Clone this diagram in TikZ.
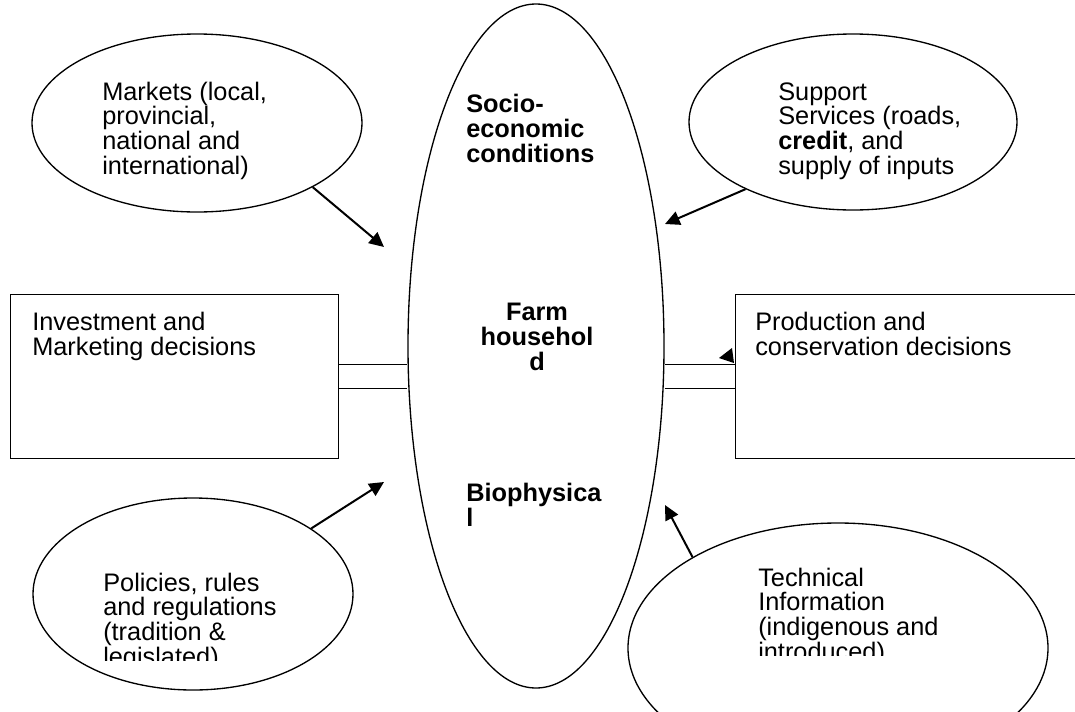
\documentclass[tikz,border=0pt]{standalone}
\usepackage{fontspec}
\setmainfont{Liberation Sans}
\usetikzlibrary{shapes.geometric}
\usetikzlibrary{arrows.meta}

\begin{document}
\begin{tikzpicture}[x=0.75pt,y=-0.75pt,
    bulle/.style={draw,ellipse,line width=1pt,inner sep=0pt},
    boite/.style={draw,rectangle,line width=1pt,inner sep=0pt,anchor=north west},
    texte/.style={font=\fontsize{19}{18.5}\selectfont,align=left,inner sep=0pt,anchor=base west},
    gras/.style={texte,font=\fontsize{19}{18.5}\selectfont\bfseries},
    fleche/.style={-{Triangle[length=11pt,width=10.5pt]},line width=1.5pt},
    trait/.style={line width=1pt}]

%Taille d'un pixel
\def \px {0.75pt}

\useasboundingbox (0,0) rectangle (1075,711);
\clip (0,0) rectangle (1075,711);

%%%%%%%%%%%%%%%%%%%%%%%%
%Ellipse centrale
%%%%%%%%%%%%%%%%%%%%%%%%
\node[bulle,minimum width=256*\px,minimum height=684*\px] (farm) at (536,346) {};
% (ancre base = dernière ligne)
\node[gras] (tsoc) at (466,162) {Socio-\\economic\\conditions};
\node[gras,align=center,anchor=base] (tfarm) at (537,370) {Farm\\househol\\d};
\node[gras] (tbio) at (466,526) {Biophysica\\l};

%%%%%%%%%%%%%%%%%%%%%%%%
%Ellipses autour
%%%%%%%%%%%%%%%%%%%%%%%%
\node[bulle,minimum width=330*\px,minimum height=178*\px] (mkt) at (197,123) {};
\node[texte] (tmkt) at (102,174) {Markets (local,\\provincial,\\national and\\international)};

\node[bulle,minimum width=328*\px,minimum height=176*\px] (supp) at (853,122) {};
\node[texte] (tsupp) at (778,174) {Support\\Services (roads,\\\textbf{credit}, and\\supply of inputs};

\node[bulle,minimum width=320*\px,minimum height=192*\px] (pol) at (193,594) {};
\begin{scope}
    \clip (0,0) rectangle (1075,660); %texte coupé en bas
    \node[texte] (tpol) at (103,665) {Policies, rules\\and regulations\\(tradition \&\\legislated)};
\end{scope}

\node[bulle,minimum width=420*\px,minimum height=250*\px] (tech) at (838,648) {};
\begin{scope}
    \clip (0,0) rectangle (1075,655); %texte coupé en bas
    \node[texte] (ttech) at (758,660) {Technical\\Information\\(indigenous and\\introduced)};
\end{scope}

%%%%%%%%%%%%%%%%%%%%%%%%
%Rectangles des décisions
%%%%%%%%%%%%%%%%%%%%%%%%
\node[boite,minimum width=328*\px,minimum height=164*\px] (invest) at (10,294) {};
\node[texte] (tinvest) at (32,355) {Investment and\\Marketing decisions};

\node[boite,minimum width=380*\px,minimum height=164*\px] (prod) at (735,294) {};
\node[texte] (tprod) at (755,355) {Production and\\conservation decisions};

%liaisons doubles
\coordinate (g1) at ([yshift=9pt]invest.east);
\coordinate (g2) at ([yshift=-9pt]invest.east);
\coordinate (d1) at ([yshift=9pt]prod.west);
\coordinate (d2) at ([yshift=-9pt]prod.west);
\draw[trait] (g1) -- (g1 -| farm.west);
\draw[trait] (g2) -- (g2 -| farm.west);
\draw[trait] (d1 -| farm.east) -- (d1);
\draw[trait] (d2 -| farm.east) -- (d2);
\fill (719,358) -- (732,348) -- (734,363) -- cycle; %petite pointe

%%%%%%%%%%%%%%%%%%%%%%%%
%Flèches
%%%%%%%%%%%%%%%%%%%%%%%%
\coordinate (pA) at (384,247);
\coordinate (pB) at (665,224);
\coordinate (pC) at (384,482);
\coordinate (pD) at (665,505);
\draw[fleche] (mkt.-29) -- (pA);
\draw[fleche] (supp.-148) -- (pB);
\draw[fleche] (pol.29) -- (pC);
\draw[fleche] (tech.148) -- (pD);

\end{tikzpicture}
\end{document}
